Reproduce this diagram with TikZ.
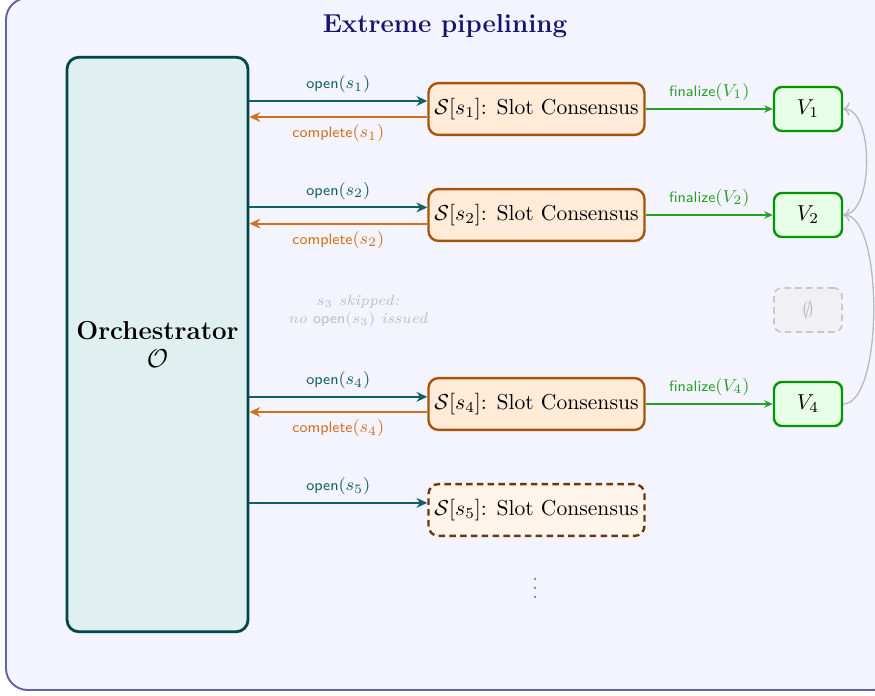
\documentclass[tikz,border=0pt]{standalone}
\usetikzlibrary{arrows.meta}
\definecolor{framefill}{RGB}{244,244,255}
\definecolor{framedraw}{RGB}{100,100,165}
\definecolor{titlecol}{RGB}{20,20,110}
\definecolor{orchfill}{RGB}{224,240,240}
\definecolor{orchdraw}{RGB}{0,72,72}
\definecolor{opencol}{RGB}{18,95,100}
\definecolor{compcol}{RGB}{210,110,30}
\definecolor{slotfill}{RGB}{255,235,215}
\definecolor{slotdraw}{RGB}{165,85,10}
\definecolor{slotfillb}{RGB}{255,245,234}
\definecolor{slotdrawb}{RGB}{110,55,10}
\definecolor{vfill}{RGB}{230,255,230}
\definecolor{vdraw}{RGB}{0,150,0}
\definecolor{fincol}{RGB}{40,160,40}
\definecolor{curvecol}{RGB}{185,185,185}
\definecolor{skipcol}{RGB}{190,190,190}
\definecolor{emptyfill}{RGB}{241,241,245}
\definecolor{emptydraw}{RGB}{200,200,200}
\newcommand{\lab}[2]{{\scriptsize\textsf{#1}}{\footnotesize$(#2)$}}
\begin{document}
\begin{tikzpicture}[x=0.463pt,y=-0.463pt,
  orchbox/.style={draw=orchdraw,fill=orchfill,line width=1.3pt,rounded corners=5.5pt,minimum width=83.8pt,minimum height=266pt,align=center},
  slotbox/.style={draw=slotdraw,fill=slotfill,line width=1.1pt,rounded corners=4.6pt,minimum width=100pt,minimum height=24pt,inner sep=1pt},
  slotboxb/.style={slotbox,draw=slotdrawb,fill=slotfillb,dashed,dash pattern=on 3pt off 2pt},
  vbox/.style={draw=vdraw,fill=vfill,line width=1.1pt,rounded corners=3.7pt,minimum width=31.5pt,minimum height=20.4pt,inner sep=1pt},
  emptybox/.style={draw=emptydraw,fill=emptyfill,line width=0.8pt,dashed,dash pattern=on 3pt off 2pt,rounded corners=3.7pt,minimum width=31.5pt,minimum height=20.4pt,inner sep=1pt,text=skipcol},
  openarr/.style={draw=opencol,line width=0.95pt,-{Stealth[length=5pt,width=4.5pt]}},
  comparr/.style={draw=compcol,line width=0.95pt,-{Stealth[length=5pt,width=4.5pt]}},
  finarr/.style={draw=fincol,line width=0.5pt,-{Stealth[length=4pt,width=3.5pt]}},
  curvearr/.style={draw=curvecol,line width=0.6pt,->},
  openlab/.style={text=opencol,inner sep=0pt,midway,yshift=7.6pt},
  complab/.style={text=compcol,inner sep=0pt,midway,yshift=-7.6pt},
  finlab/.style={text=fincol,inner sep=0pt,midway,yshift=7.9pt},
  skiplab/.style={font=\scriptsize,text=skipcol,align=center,inner sep=0pt}
]
\useasboundingbox (0,0) rectangle (875,696);
\draw[draw=framedraw,fill=framefill,line width=0.9pt,rounded corners=10pt] (6,-2) rectangle (895,690);
\node[font=\large\bfseries,text=titlecol] (title) at (445,26) {Extreme pipelining};

\node[orchbox] (orch) at (157.5,344.5) {\large\textbf{Orchestrator}\\[1pt] \large$\mathcal{O}$};

\node[slotbox] (s1) at (536.5,109) {$\mathcal{S}[s_1]$: Slot Consensus};
\node[slotbox] (s2) at (536.5,215) {$\mathcal{S}[s_2]$: Slot Consensus};
\node[slotbox] (s4) at (536.5,404) {$\mathcal{S}[s_4]$: Slot Consensus};
\node[slotboxb] (s5) at (536.5,510) {$\mathcal{S}[s_5]$: Slot Consensus};

\node[vbox] (v1) at (808,109) {$V_1$};
\node[vbox] (v2) at (808,215) {$V_2$};
\node[emptybox] (v3) at (808,310) {$\emptyset$};
\node[vbox] (v4) at (808,404) {$V_4$};

% open / complete arrows
\draw[openarr] ([yshift=3.7pt]s1.west -| orch.east) -- node[openlab] {\lab{open}{s_1}} ([yshift=3.7pt]s1.west);
\draw[comparr] ([yshift=-3.7pt]s1.west) -- node[complab] {\lab{complete}{s_1}} ([yshift=-3.7pt]s1.west -| orch.east);
\draw[openarr] ([yshift=3.5pt]s2.west -| orch.east) -- node[openlab] {\lab{open}{s_2}} ([yshift=3.5pt]s2.west);
\draw[comparr] ([yshift=-4pt]s2.west) -- node[complab] {\lab{complete}{s_2}} ([yshift=-4pt]s2.west -| orch.east);
\draw[openarr] ([yshift=3.3pt]s4.west -| orch.east) -- node[openlab] {\lab{open}{s_4}} ([yshift=3.3pt]s4.west);
\draw[comparr] ([yshift=-3.7pt]s4.west) -- node[complab] {\lab{complete}{s_4}} ([yshift=-3.7pt]s4.west -| orch.east);
\draw[openarr] ([yshift=3.3pt]s5.west -| orch.east) -- node[openlab] {\lab{open}{s_5}} ([yshift=3.3pt]s5.west);

% skipped slot
\node[skiplab] (skip) at (358,311) {$s_3$ \textit{skipped:}\\ \textit{no} \textsf{open}$(s_3)$ \textit{issued}};

% finalize arrows
\draw[finarr] (s1.east) -- node[finlab] {\lab{finalize}{V_1}} (v1.west);
\draw[finarr] (s2.east) -- node[finlab] {\lab{finalize}{V_2}} (v2.west);
\draw[finarr] (s4.east) -- node[finlab] {\lab{finalize}{V_4}} (v4.west);

% chain curves
\draw[curvearr] (v2.east) to[out=0,in=0,looseness=0.75] (v1.east);
\draw[curvearr] (v4.east) to[out=0,in=0,looseness=0.55] (v2.east);

% continuation dots
\node[text=gray,inner sep=0pt] (dots) at (535,582) {$\vdots$};
\end{tikzpicture}
\end{document}
